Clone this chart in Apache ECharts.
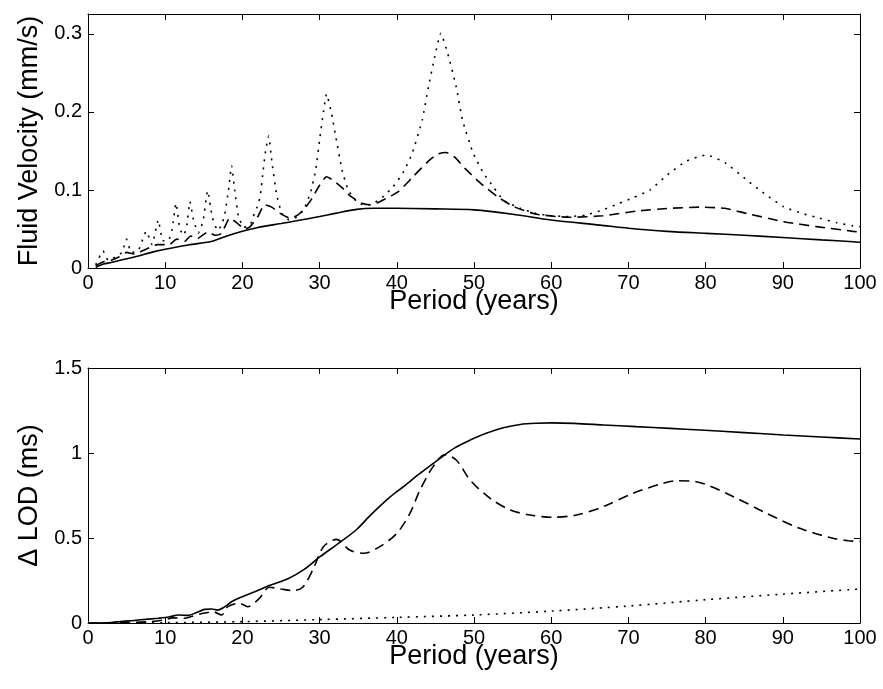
<!DOCTYPE html>
<html><head><meta charset="utf-8">
<script src="https://cdn.jsdelivr.net/npm/echarts@6/dist/echarts.min.js"></script>
<style>html,body{margin:0;padding:0;background:#fff}#c{width:883px;height:689px}</style>
</head><body><div id="c"></div>
<script>
// ---- Top panel: Fluid Velocity (mm/s) vs Period (years)
var topSolidX = [1, 2, 3, 4.3, 6, 8.6, 10, 13, 15.8, 16.8, 18, 20, 22, 25, 27, 30, 32, 34.8, 37, 40, 45, 50, 55, 60, 66.3, 70, 75, 80.1, 85, 90, 95, 99.1, 100];
var topSolidY = [0.001, 0.005, 0.007, 0.0103, 0.014, 0.021, 0.024, 0.0295, 0.0337, 0.0368, 0.041, 0.047, 0.052, 0.057, 0.0605, 0.066, 0.07, 0.0752, 0.0765, 0.0765, 0.0758, 0.0745, 0.069, 0.0615, 0.055, 0.051, 0.047, 0.0444, 0.042, 0.039, 0.036, 0.0337, 0.033];

var topDashedX = [1, 2, 3, 4, 5, 6, 7.5, 9, 10.5, 11.5, 12.5, 13.3, 14.2, 15.5, 16.5, 17.3, 18.4, 19.5, 20.3, 21, 22, 22.9, 23.8, 24.9, 26.2, 27.2, 28.2, 29, 30, 30.9, 31.8, 32.9, 34, 35.5, 36.5, 37.6, 40.2, 42.1, 44.1, 45.3, 46.4, 47.5, 48.8, 50.8, 53.1, 55.1, 58.1, 62.4, 66.7, 71.1, 75.4, 79.3, 82.5, 85.3, 90.1, 94.4, 99.1, 100];
var topDashedY = [0.003, 0.008, 0.01, 0.014, 0.02, 0.018, 0.024, 0.03, 0.03, 0.037, 0.034, 0.041, 0.038, 0.046, 0.042, 0.0445, 0.064, 0.056, 0.05, 0.053, 0.066, 0.081, 0.078, 0.07, 0.064, 0.068, 0.078, 0.089, 0.106, 0.117, 0.112, 0.103, 0.092, 0.083, 0.081, 0.084, 0.098, 0.117, 0.137, 0.146, 0.148, 0.142, 0.128, 0.109, 0.091, 0.079, 0.069, 0.065, 0.067, 0.073, 0.0765, 0.078, 0.0765, 0.07, 0.0594, 0.053, 0.047, 0.046];

var topDottedX = [1, 1.95, 2.6, 3.5, 4.4, 5.0, 5.6, 6.5, 7.55, 8.3, 9.1, 9.7, 10.4, 10.9, 11.4, 11.9, 12.4, 12.8, 13.2, 13.7, 14.3, 14.9, 15.5, 16.1, 16.8, 17.3, 17.7, 18.2, 18.6, 19.0, 19.5, 20.2, 21.0, 21.4, 21.9, 22.3, 22.7, 23.0, 23.4, 23.8, 24.4, 25.1, 26.0, 27.0, 27.9, 28.8, 29.5, 30.05, 30.5, 30.9, 31.5, 32.1, 32.9, 33.7, 34.8, 36, 37, 38.3, 39.5, 40.8, 42.0, 43.3, 44.1, 44.9, 45.7, 46.6, 47.7, 48.5, 49.9, 51.2, 52.5, 53.8, 56, 58, 60, 62.4, 64.5, 66.7, 68.8, 70.6, 72.8, 75, 77.5, 80.1, 82.5, 85.3, 87.8, 90.1, 92.5, 94.8, 97, 99.1, 100];
var topDottedY = [0.004, 0.022, 0.01, 0.014, 0.02, 0.037, 0.02, 0.022, 0.047, 0.03, 0.0615, 0.035, 0.035, 0.05, 0.083, 0.05, 0.042, 0.055, 0.085, 0.06, 0.045, 0.06, 0.099, 0.065, 0.048, 0.055, 0.068, 0.1, 0.131, 0.1, 0.066, 0.052, 0.055, 0.066, 0.078, 0.091, 0.126, 0.15, 0.169, 0.138, 0.096, 0.07, 0.062, 0.065, 0.074, 0.096, 0.126, 0.168, 0.2, 0.223, 0.2, 0.168, 0.126, 0.1, 0.085, 0.08, 0.083, 0.092, 0.104, 0.122, 0.147, 0.19, 0.232, 0.27, 0.301, 0.275, 0.232, 0.19, 0.147, 0.122, 0.104, 0.087, 0.0765, 0.07, 0.067, 0.066, 0.068, 0.0744, 0.083, 0.09, 0.1, 0.119, 0.137, 0.145, 0.135, 0.113, 0.094, 0.0786, 0.07, 0.0637, 0.058, 0.054, 0.053];

// ---- Bottom panel: Delta LOD (ms) vs Period (years)
var botSolidX = [0, 3, 6.5, 9.1, 10.5, 11.7, 13, 14, 15.1, 16, 16.8, 17.7, 18.6, 20, 21.6, 23.5, 25.9, 28, 30.05, 32.5, 34.8, 36.5, 39.1, 40.8, 43, 45.6, 47.5, 49.5, 51.5, 53.8, 56, 58.1, 60, 63, 66.7, 71, 75.4, 79.3, 85, 90.1, 95, 100];
var botSolidY = [0, 0.003, 0.018, 0.028, 0.035, 0.047, 0.045, 0.06, 0.08, 0.082, 0.076, 0.095, 0.125, 0.155, 0.184, 0.22, 0.26, 0.315, 0.39, 0.47, 0.55, 0.63, 0.74, 0.8, 0.88, 0.969, 1.03, 1.076, 1.115, 1.149, 1.168, 1.175, 1.177, 1.174, 1.165, 1.155, 1.145, 1.135, 1.12, 1.106, 1.094, 1.082];

var botDashedX = [0, 5, 8, 9.9, 11, 12.5, 13.5, 14.9, 16.2, 17.3, 18.1, 19.6, 20.7, 22.2, 23.5, 25, 26.5, 27.8, 29.2, 30.5, 32.2, 33.9, 35.7, 37.8, 40, 41.7, 43, 44.7, 46.2, 47.7, 49.5, 52.1, 54.7, 57.3, 60.1, 63.3, 66.7, 70.6, 74.5, 76.3, 78.8, 83.6, 87.9, 92.2, 96.5, 98.5, 100];
var botDashedY = [0, 0.002, 0.008, 0.018, 0.03, 0.028, 0.04, 0.057, 0.066, 0.047, 0.096, 0.116, 0.096, 0.145, 0.21, 0.2, 0.19, 0.21, 0.32, 0.449, 0.492, 0.429, 0.41, 0.449, 0.527, 0.645, 0.782, 0.92, 0.99, 0.959, 0.841, 0.733, 0.665, 0.635, 0.622, 0.635, 0.684, 0.763, 0.822, 0.837, 0.831, 0.743, 0.645, 0.557, 0.498, 0.484, 0.48];

var botDottedX = [0, 10, 20, 30, 40, 50, 60, 70, 80, 90, 100];
var botDottedY = [0, 0.002, 0.008, 0.02, 0.033, 0.047, 0.07, 0.1, 0.137, 0.17, 0.2];

// ---- Axis texts and ticks
var xTitle = 'Period (years)';
var topYTitle = 'Fluid Velocity (mm/s)';
var botYTitle = '\u0394 LOD (ms)';
var xTicks = [0, 10, 20, 30, 40, 50, 60, 70, 80, 90, 100];
var topYTicks = [0, 0.1, 0.2, 0.3];
var botYTicks = [0, 0.5, 1, 1.5];

function pairs(xs, ys) { return xs.map(function (x, i) { return [x, ys[i]]; }); }

var FONT = "'Liberation Sans', Arial, Helvetica, sans-serif";
var lineBase = { color: '#000', width: 1 };

function xAx(grid, pos, withLabel) {
  return {
    type: 'value', gridIndex: grid, position: pos, min: xTicks[0], max: xTicks[xTicks.length - 1], interval: 10,
    axisLine: { show: true, onZero: false, lineStyle: lineBase },
    axisTick: { show: true, inside: true, length: 6, lineStyle: lineBase },
    axisLabel: { show: withLabel, color: '#000', fontSize: 20, fontFamily: FONT, margin: 5 },
    splitLine: { show: false },
    name: withLabel ? xTitle : '', nameLocation: 'middle', nameGap: 20, nameMoveOverlap: false,
    nameTextStyle: { color: '#000', fontSize: 27, fontFamily: FONT, verticalAlign: 'top' }
  };
}
function yAx(grid, pos, withLabel, max, interval, title) {
  return {
    type: 'value', gridIndex: grid, position: pos, min: 0, max: max, interval: interval,
    axisLine: { show: true, onZero: false, lineStyle: lineBase },
    axisTick: { show: true, inside: true, length: 6, lineStyle: lineBase },
    axisLabel: { show: withLabel, color: '#000', fontSize: 20, fontFamily: FONT, margin: 6, showMaxLabel: max === 1.5,
      formatter: function (v) { return String(Math.round(v * 10) / 10); } },
    splitLine: { show: false },
    name: withLabel ? title : '', nameLocation: 'middle', nameGap: 44,
    nameTextStyle: { color: '#000', fontSize: 27, fontFamily: FONT }
  };
}

function ser(xi, yi, xs, ys, type, smooth) {
  var dash = type === 'solid' ? 'solid' : (type === 'dashed' ? [10, 6] : [2, 6]);
  return {
    type: 'line', xAxisIndex: xi, yAxisIndex: yi, data: pairs(xs, ys), showSymbol: false, symbol: 'none',
    smooth: smooth, animation: false,
    lineStyle: { color: '#000', width: 1.6, type: dash }
  };
}

var chart = echarts.init(document.getElementById('c'), null, { renderer: 'canvas' });
chart.setOption({
  backgroundColor: '#fff',
  animation: false,
  grid: [
    { left: 88, top: 14, width: 772, height: 254 },
    { left: 88, top: 368, width: 772, height: 255 }
  ],
  xAxis: [xAx(0, 'bottom', true), xAx(0, 'top', false), xAx(1, 'bottom', true), xAx(1, 'top', false)],
  yAxis: [
    yAx(0, 'left', true, 0.3256, 0.1, topYTitle), yAx(0, 'right', false, 0.3256, 0.1, ''),
    yAx(1, 'left', true, 1.5, 0.5, botYTitle), yAx(1, 'right', false, 1.5, 0.5, '')
  ],
  series: [
    ser(0, 0, topSolidX, topSolidY, 'solid', 0.3),
    ser(0, 0, topDashedX, topDashedY, 'dashed', 0.2),
    ser(0, 0, topDottedX, topDottedY, 'dotted', 0.15),
    ser(2, 2, botSolidX, botSolidY, 'solid', 0.3),
    ser(2, 2, botDashedX, botDashedY, 'dashed', 0.3),
    ser(2, 2, botDottedX, botDottedY, 'dotted', 0.3)
  ]
});
</script></body></html>
